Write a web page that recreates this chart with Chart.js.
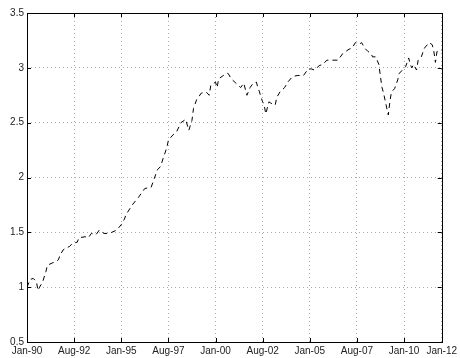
<!DOCTYPE html>
<html>
<head>
<meta charset="utf-8">
<script src="https://cdn.jsdelivr.net/npm/chart.js@4/dist/chart.umd.min.js"></script>
<style>
  html, body { margin: 0; padding: 0; background: #fff; }
  #wrap { width: 460px; height: 358px; }
</style>
</head>
<body>
<div id="wrap"><canvas id="c" width="460" height="358"></canvas></div>
<script>
// months since Jan-1990
const months = [0, 2, 4, 6, 7, 8, 10, 12, 13, 16, 18, 20, 21, 23, 25, 27, 29, 32, 33, 37,
    39, 41, 44, 46, 49, 51, 54, 57, 60, 62, 63, 67, 71, 75, 79, 81, 83, 85, 87, 89,
    90, 93, 95, 98, 101, 103, 105, 106, 108, 111, 114, 116, 117, 120, 121, 122, 125, 127, 128, 130,
    133, 136, 138, 140, 142, 144, 146, 147, 148, 149, 150, 151, 152, 154, 155, 158, 159, 161, 164, 166,
    169, 172, 176, 179, 181, 183, 186, 188, 191, 193, 196, 198, 201, 203, 205, 207, 209, 212, 213, 215,
    217, 219, 220, 222, 224, 225, 226, 227, 228, 230, 231, 232, 234, 236, 237, 239, 241, 242, 243, 244,
    245, 246, 248, 249, 251, 253, 256, 258, 259, 260, 261, 263, 264]

const values = [1.0, 1.07, 1.08, 1.05, 0.97, 1.0, 1.05, 1.14, 1.2, 1.22, 1.23, 1.25, 1.29, 1.34, 1.36, 1.37, 1.4, 1.41, 1.45, 1.46,
    1.45, 1.49, 1.48, 1.52, 1.49, 1.49, 1.5, 1.52, 1.57, 1.62, 1.66, 1.75, 1.82, 1.9, 1.91, 1.99, 2.07, 2.1, 2.19, 2.27,
    2.34, 2.39, 2.41, 2.5, 2.53, 2.43, 2.52, 2.63, 2.71, 2.77, 2.78, 2.75, 2.84, 2.87, 2.82, 2.9, 2.93, 2.95, 2.95, 2.9,
    2.86, 2.82, 2.86, 2.75, 2.82, 2.86, 2.87, 2.82, 2.78, 2.73, 2.69, 2.66, 2.58, 2.69, 2.68, 2.66, 2.73, 2.78, 2.82, 2.87,
    2.92, 2.93, 2.93, 2.99, 2.99, 2.98, 3.02, 3.03, 3.07, 3.07, 3.07, 3.07, 3.13, 3.15, 3.17, 3.18, 3.23, 3.22, 3.23, 3.18,
    3.15, 3.13, 3.1, 3.1, 3.03, 2.92, 2.82, 2.77, 2.7, 2.57, 2.69, 2.78, 2.81, 2.89, 2.95, 2.98, 3.01, 3.05, 3.09, 3.03,
    3.0, 3.03, 2.98, 3.07, 3.1, 3.18, 3.23, 3.21, 3.15, 3.05, 3.15, 3.15, 3.16]

const tickMonths = [0, 30, 60, 90, 120, 150, 180, 210, 240, 264]
const tickLabels = ['Jan-90', 'Aug-92', 'Jan-95', 'Aug-97', 'Jan-00', 'Aug-02', 'Jan-05', 'Aug-07', 'Jan-10', 'Jan-12']

let points = []
for (let i = 0; i < months.length; i++) {
    points.push({ x: months[i], y: values[i] })
}

// box around the axes plus small inward ticks, like matlab
const boxPlugin = {
    id: 'box',
    afterDraw(chart) {
        const { ctx, chartArea: a, scales } = chart
        ctx.save()
        ctx.strokeStyle = '#000'
        ctx.lineWidth = 1
        ctx.setLineDash([])
        ctx.beginPath()
        for (const t of scales.x.ticks) {
            const px = Math.round(scales.x.getPixelForValue(t.value)) + 0.5
            ctx.moveTo(px, a.bottom); ctx.lineTo(px, a.bottom - 4)
            ctx.moveTo(px, a.top); ctx.lineTo(px, a.top + 4)
        }
        for (const t of scales.y.ticks) {
            const py = Math.round(scales.y.getPixelForValue(t.value)) + 0.5
            ctx.moveTo(a.left, py); ctx.lineTo(a.left + 4, py)
            ctx.moveTo(a.right, py); ctx.lineTo(a.right - 4, py)
        }
        ctx.stroke()
        ctx.strokeRect(Math.round(a.left) + 0.5, Math.round(a.top) + 0.5,
            Math.round(a.right - a.left), Math.round(a.bottom - a.top))
        ctx.restore()
    }
}

const canvas = document.getElementById('c')

const chart = new Chart(canvas, {
    type: 'line',
    data: {
        datasets: [
            {
                data: points,
                borderColor: '#000',
                borderWidth: 1,
                borderDash: [5, 4],
                pointRadius: 0,
                tension: 0,
                fill: false,
            },
        ]
    },
    options: {
        responsive: false,
        animation: false,
        layout: {
            padding: { top: 13, right: 15, left: 0, bottom: 0 }
        },
        plugins: {
            legend: false,
            tooltip: { enabled: false },
        },
        scales: {
            x: {
                type: 'linear',
                min: 0,
                max: 264,
                afterBuildTicks: (scale) => {
                    scale.ticks = tickMonths.map(v => ({ value: v }))
                },
                afterFit: (scale) => { scale.height = 16 },
                ticks: {
                    autoSkip: false,
                    maxRotation: 0,
                    padding: 3,
                    color: '#222',
                    font: { family: 'Liberation Sans, Arial, sans-serif', size: 10 },
                    callback: (v) => tickLabels[tickMonths.indexOf(v)],
                },
                grid: {
                    color: '#aaa',
                    lineWidth: 1,
                    drawTicks: false,
                },
                border: { display: false, dash: [1, 3] },
            },
            y: {
                min: 0.5,
                max: 3.5,
                afterFit: (scale) => { scale.width = 27 },
                ticks: {
                    stepSize: 0.5,
                    padding: 3,
                    color: '#222',
                    font: { family: 'Liberation Sans, Arial, sans-serif', size: 10 },
                    callback: (v) => String(v),
                },
                grid: {
                    color: '#aaa',
                    lineWidth: 1,
                    drawTicks: false,
                },
                border: { display: false, dash: [1, 3] },
            }
        }
    },
    plugins: [boxPlugin]
});
</script>
</body>
</html>
